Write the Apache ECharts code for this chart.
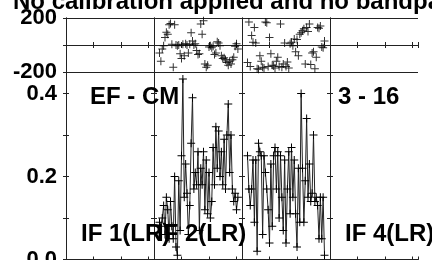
<!DOCTYPE html>
<html><head><meta charset="utf-8">
<script src="https://cdn.jsdelivr.net/npm/echarts@6/dist/echarts.min.js"></script>
<style>html,body{margin:0;padding:0;background:#fff}#c{width:432px;height:260px}</style>
</head><body><div id="c"></div>
<script>
// ---- data ----
const ifNames = ['IF 1(LR)', 'IF 2(LR)', 'IF 3(LR)', 'IF 4(LR)'];
const channelsPerIF = 64;
const xTickStep = 20;
const phaseTicks = [-200, 0, 200];
const ampTickLabels = ['0.0', '0.2', '0.4'];
const baselineLabel = 'EF - CM';
const timeLabel = '3 - 16';
const titleText = 'No calibration applied and no bandpass applied';
const if2FirstChannel = 4;
const if2Amp = [0.09,0.08,0.10,0.13,0.06,0.15,0.12,0.05,0.14,0.08,0.05,0.20,0.03,0.01,0.19,0.07,0.25,0.435,0.15,0.23,0.16,0.06,0.13,0.28,0.39,0.17,0.21,0.18,0.26,0.07,0.22,0.18,0.26,0.12,0.24,0.11,0.21,0.10,0.14,0.27,0.18,0.32,0.22,0.31,0.20,0.26,0.18,0.29,0.17,0.30,0.375,0.21,0.30,0.17,0.14,0.16,0.12,0.15];
const if2Phase = [-60,-120,-30,-5,55,95,80,150,160,5,-165,150,0,-5,0,-65,-100,5,-80,10,0,-60,5,90,30,0,10,-40,-70,-65,155,80,180,-140,-165,-150,-15,-5,-20,-10,-70,-60,25,15,-5,-80,-100,-95,-110,-130,-150,-120,-140,-110,-90,-10,10,-30];
const if3FirstChannel = 4;
const if3Amp = [0.25,0.17,0.13,0.17,0.24,0.09,0.24,0.02,0.28,0.26,0.25,0.06,0.25,0.21,0.17,0.12,0.04,0.23,0.08,0.25,0.27,0.17,0.26,0.10,0.25,0.15,0.07,0.24,0.04,0.17,0.26,0.11,0.27,0.15,0.24,0.11,0.03,0.22,0.09,0.40,0.22,0.09,0.19,0.34,0.15,0.23,0.14,0.16,0.30,0.14,0.15,0.13,0.05,0.15,0.05,0.15,0.01];
const if3Phase = [-130,170,-160,70,20,130,15,-175,-180,-80,-120,-165,-170,170,165,-160,55,-65,-150,-155,-170,-120,-90,-160,155,-165,-140,15,-160,-125,-170,10,20,-5,45,-50,40,-80,80,90,105,120,-140,130,100,155,-145,-60,-50,-175,-90,130,125,140,-15,-20,30];

// ---- layout ----
const L = 66, PW = 88, PT = 18, PH = 54, AT = 72, AH = 187.5;
const FONT = 'Liberation Sans, Arial, sans-serif';
const cross = 'path://M3.5,0h1v3.5h3.5v1h-3.5v3.5h-1v-3.5h-3.5v-1h3.5z';

const grids = [], xAxes = [], yAxes = [];
const frame = {show: true, lineStyle: {color: '#222', width: 1}};
function addPanel(gi, top, height, yMin, yMax, yInt, labelFmt, showLabels, splitLine) {
  const i = gi % 4;
  grids.push({left: L + PW * i, top: top, width: PW, height: height, containLabel: false, outerBoundsMode: 'none'});
  ['bottom', 'top'].forEach(pos => xAxes.push({
    type: 'value', gridIndex: gi, position: pos, min: 0, max: channelsPerIF, interval: xTickStep,
    axisLine: frame, axisTick: {show: true, inside: true, length: 3, lineStyle: {color: '#222'}},
    axisLabel: {show: false}, splitLine: {show: false}
  }));
  ['left', 'right'].forEach((pos, k) => yAxes.push({
    type: 'value', gridIndex: gi, position: pos, min: yMin, max: yMax, interval: yInt,
    axisLine: frame, axisTick: {show: true, inside: true, length: 3, lineStyle: {color: '#222'}},
    axisLabel: {show: showLabels && k === 0, formatter: labelFmt, margin: 9, color: '#000',
      fontSize: 22, fontWeight: 'bold', fontFamily: FONT, padding: [4, 0, 0, 0],
      showMinLabel: true, showMaxLabel: true, hideOverlap: false},
    splitLine: {show: splitLine && k === 0, interval: 0, lineStyle: {color: '#222', width: 1}}
  }));
}
for (let i = 0; i < 4; i++) addPanel(i, PT, PH, -200, 200, 200,
  v => (v === phaseTicks[0] || v === phaseTicks[2]) ? String(v) : '', i === 0, true);
for (let i = 0; i < 4; i++) addPanel(4 + i, AT, AH, 0, 0.452, 0.1,
  v => { const s = v.toFixed(1); return (Math.abs(v * 5 - Math.round(v * 5)) < 1e-6 && ampTickLabels.includes(s)) ? s : ''; },
  i === 0, false);

function pts(first, arr) { return arr.map((v, k) => [first + k, v]); }
const series = [];
function addIF(ifIdx, first, amp, phase) {
  series.push({type: 'scatter', xAxisIndex: 2 * ifIdx, yAxisIndex: 2 * ifIdx, data: pts(first, phase),
    symbol: cross, symbolSize: 8, itemStyle: {color: '#000'}, silent: true});
  const g = 4 + ifIdx;
  series.push({type: 'line', xAxisIndex: 2 * g, yAxisIndex: 2 * g, data: pts(first, amp),
    symbol: cross, symbolSize: 8, showAllSymbol: true, itemStyle: {color: '#000'},
    lineStyle: {color: '#222', width: 1}, silent: true});
}
addIF(1, if2FirstChannel, if2Amp, if2Phase);
addIF(2, if3FirstChannel, if3Amp, if3Phase);

function txt(t, x, y, size) {
  return {type: 'text', x: x, y: y, z: 100, silent: true,
    style: {text: t, fill: '#000', font: 'bold ' + size + 'px ' + FONT,
      textAlign: 'left', textVerticalAlign: 'middle', align: 'left', verticalAlign: 'middle'}};
}
const graphics = [
  txt(titleText, 13, 2, 24),
  txt(baselineLabel, 90, 97, 24),
  txt(timeLabel, 338, 97, 24),
  txt(ifNames[0], 81, 234, 24),
  txt(ifNames[1], 157, 234, 24),
  txt(ifNames[3], 345, 234, 24)
];

const chart = echarts.init(document.getElementById('c'), null, {renderer: 'canvas'});
chart.setOption({animation: false, grid: grids, xAxis: xAxes, yAxis: yAxes, series: series, graphic: graphics});
</script></body></html>
